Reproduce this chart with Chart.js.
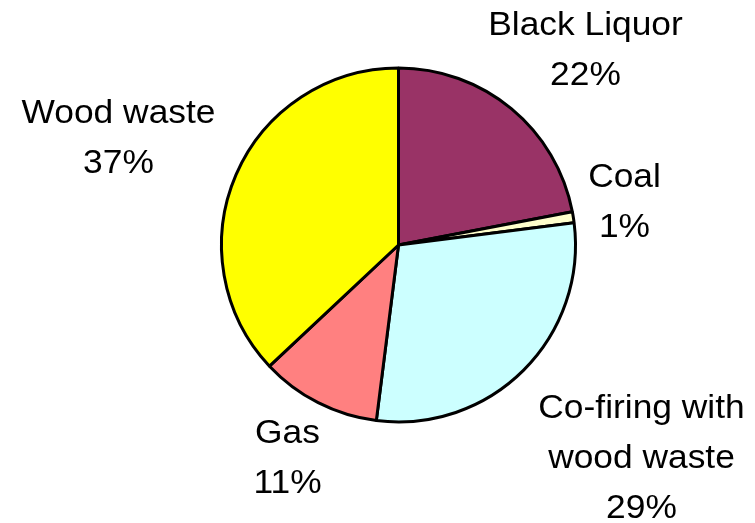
<!DOCTYPE html>
<html>
<head>
<meta charset="utf-8">
<script src="https://cdn.jsdelivr.net/npm/chart.js@4/dist/chart.umd.min.js"></script>
<style>
  html, body { margin: 0; padding: 0; background: #fff; }
  #wrap { width: 755px; height: 523px; }
</style>
</head>
<body>
<div id="wrap"><canvas id="pie"></canvas></div>
<script>
const categories = ["Black Liquor", "Coal", "Co-firing with wood waste", "Gas", "Wood waste"];
const shares = [22, 1, 29, 11, 37];
// label lines as printed next to each slice
const labelLines = [
  ["Black Liquor"],
  ["Coal"],
  ["Co-firing with", "wood waste"],
  ["Gas"],
  ["Wood waste"],
];

const sliceColors = ["#993366", "#FFFFCC", "#CCFFFF", "#FF8080", "#FFFF00"];

// where each label's first baseline sits, measured from the pie centre
const labelOffsets = [
  [187, -210],
  [226, -58],
  [243, 173],
  [-111, 198],
  [-280, -122],
];
const lineHeight = 50;
const textStretch = 1.04;

const sliceLabels = {
  id: "sliceLabels",
  afterDraw(chart) {
    const ctx = chart.ctx;
    const arcs = chart.getDatasetMeta(0).data;
    ctx.save();
    ctx.fillStyle = "#000";
    ctx.font = '34px "Liberation Sans", Arial, sans-serif';
    ctx.textAlign = "center";
    ctx.textBaseline = "alphabetic";
    arcs.forEach((arc, i) => {
      const lines = labelLines[i].concat([shares[i] + "%"]);
      const x = arc.x + labelOffsets[i][0];
      let y = arc.y + labelOffsets[i][1];
      lines.forEach((line) => {
        ctx.save();
        ctx.translate(x, y);
        ctx.scale(textStretch, 1);
        ctx.fillText(line, 0, 0);
        ctx.restore();
        y += lineHeight;
      });
    });
    ctx.restore();
  }
};

new Chart(document.getElementById("pie"), {
  type: "pie",
  data: {
    labels: categories,
    datasets: [{
      data: shares,
      backgroundColor: sliceColors,
      borderColor: "#000",
      borderWidth: 3,
      hoverOffset: 0,
    }]
  },
  options: {
    responsive: true,
    maintainAspectRatio: false,
    animation: false,
    radius: 177,
    layout: { padding: { left: 62, right: 20, top: 50, bottom: 83 } },
    plugins: {
      legend: { display: false },
      tooltip: { enabled: false },
    },
    events: [],
  },
  plugins: [sliceLabels],
});
</script>
</body>
</html>
